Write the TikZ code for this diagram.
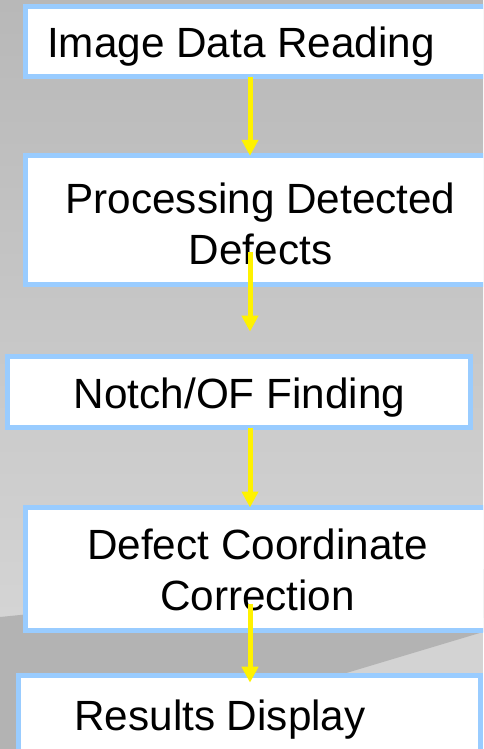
\documentclass[tikz,border=0pt]{standalone}
\usepackage{fontspec}
\setmainfont{Liberation Sans}
\usepackage{tikz}
\usetikzlibrary{arrows.meta}

\definecolor{boxline}{RGB}{153,204,255}
\definecolor{bgtop}{RGB}{184,184,184}
\definecolor{bgmid}{RGB}{212,212,212}
\definecolor{bglight}{RGB}{211,211,211}
\definecolor{bgdark}{RGB}{179,179,179}

\begin{document}
\begin{tikzpicture}[
            x = 0.75pt, y = -0.75pt, % one unit is one pixel
            > = {Triangle[length=12pt, width=12pt]}, % arrow head style
            font = \fontsize{31.7pt}{37.9pt}\selectfont
        ]

        \tikzstyle{box}=[
            draw = boxline,
            line width = 3.75pt,
            fill = white,
            inner sep = 0pt,
            outer sep = 0pt,
            anchor = north west
        ]
        \tikzstyle{txt}=[align = center, anchor = base, inner sep = 0pt]
        \tikzstyle{flow}=[->, draw = yellow, line width = 3.75pt]

        % background
        \useasboundingbox (0,0) rectangle (483,749);
        \clip (0,0) rectangle (483,749);
        \shade[top color = bgtop, bottom color = bgmid] (0,0) rectangle (483,617);
        \fill[bglight] (0,617) rectangle (483,749);
        \fill[bgdark] (0,617) -- (483,569) -- (483,632) -- (93,749) -- (0,749) -- cycle;

        \node[box, minimum width = 378pt, minimum height = 53pt] (read) at (25.8,6.3) {};
        \node[box, minimum width = 378pt, minimum height = 96.3pt] (proc) at (25.8,155.8) {};
        \node[box, minimum width = 347.5pt, minimum height = 53.1pt] (notch) at (7.5,356.7) {};
        \node[box, minimum width = 378pt, minimum height = 92pt] (corr) at (25.8,507.5) {};
        \node[box, minimum width = 347pt, minimum height = 75pt] (disp) at (18.2,675.2) {};

        % base of a two line text is its last line
        \node[txt] (readtxt) at (241,57.3) {Image Data Reading};
        \node[txt] (proctxt) at (260.5,264) {Processing Detected\\Defects};
        \node[txt] (notchtxt) at (239.5,408.3) {Notch/OF Finding};
        \node[txt] (corrtxt) at (257.5,610) {Defect Coordinate\\Correction};
        \node[txt] (disptxt) at (220,730) {Results Display};

        \coordinate (axis) at (250,0);

        \draw[flow] (read.south -| axis) -- (proc.north -| axis);
        \draw[flow] ([yshift=24.4pt]proc.south -| axis) -- ([yshift=18.8pt]notch.north -| axis);
        \draw[flow] (notch.south -| axis) -- (corr.north -| axis);
        \draw[flow] ([yshift=19.6pt]corr.south -| axis) -- ([yshift=-5.6pt]disp.north -| axis);

  \end{tikzpicture}
\end{document}
